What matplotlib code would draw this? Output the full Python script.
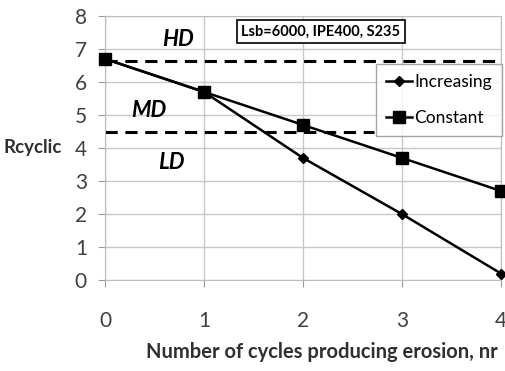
import matplotlib.pyplot as plt

plt.rcParams['font.family'] = ['Lato', 'DejaVu Sans']

nr = [0, 1, 2, 3, 4]
increasing = [6.7, 5.7, 3.7, 2.0, 0.2]
constant = [6.7, 5.7, 4.7, 3.7, 2.7]

hd_limit = 6.65
md_limit = 4.5
md_line_end = 2.72

zones = ["HD", "MD", "LD"]
zone_x = [0.74, 0.44, 0.67]
zone_y = [7.3, 5.15, 3.55]

fig = plt.figure(figsize=(5.06, 3.71), dpi=100)
ax = fig.add_axes([0.2075, 0.245, 0.7825, 0.712])

ax.set_xlim(0, 4)
ax.set_ylim(0, 8)
ax.set_xticks(nr)
ax.set_yticks(range(0, 9))
ax.grid(True, color='#c8c8c8', linewidth=1)
ax.set_axisbelow(True)
for s in ax.spines.values():
    s.set_color('#bdbdbd')
ax.tick_params(axis='both', colors='#9a9a9a', labelcolor='#404040', labelsize=15, length=5)
ax.tick_params(axis='x', pad=17)
ax.tick_params(axis='y', pad=8)

ax.plot([0, 4], [hd_limit, hd_limit], color='black', linestyle=(0, (4, 2.5)), linewidth=2.2, clip_on=False)
ax.plot([0, md_line_end], [md_limit, md_limit], color='black', linestyle=(0, (4, 2.5)), linewidth=2.2, clip_on=False)

ax.plot(nr, increasing, color='black', linewidth=1.8, marker='D', markersize=5, label='Increasing', clip_on=False, zorder=5)
ax.plot(nr, constant, color='black', linewidth=1.8, marker='s', markersize=9, label='Constant', clip_on=False, zorder=5)

for z, x, y in zip(zones, zone_x, zone_y):
    ax.text(x, y, z, fontsize=16, fontweight='bold', fontstyle='italic', ha='center', va='center')

ax.text(2.18, 7.52, "Lsb=6000, IPE400, S235", fontsize=10.5, fontweight='bold', ha='center', va='center',
        bbox=dict(boxstyle='square,pad=0.3', facecolor='white', edgecolor='black', linewidth=1.2))

leg = ax.legend(loc='upper right', bbox_to_anchor=(1.003, 0.82), fontsize=12.5, frameon=True, fancybox=False,
                edgecolor='#909090', handlelength=1.5, handletextpad=0.1, borderpad=0.6, labelspacing=1.15,
                borderaxespad=0)
leg.get_frame().set_linewidth(1.0)
leg.set_zorder(6)

fig.text(0.123, (371 - 148) / 371, "Rcyclic", fontsize=13.5, fontweight='bold', ha='right', va='center', color='#303030')
fig.text(0.636, (371 - 352) / 371, "Number of cycles producing erosion, nr", fontsize=14.5, fontweight='bold',
         ha='center', va='center', color='#303030')

fig.savefig('out.png', dpi=100)
